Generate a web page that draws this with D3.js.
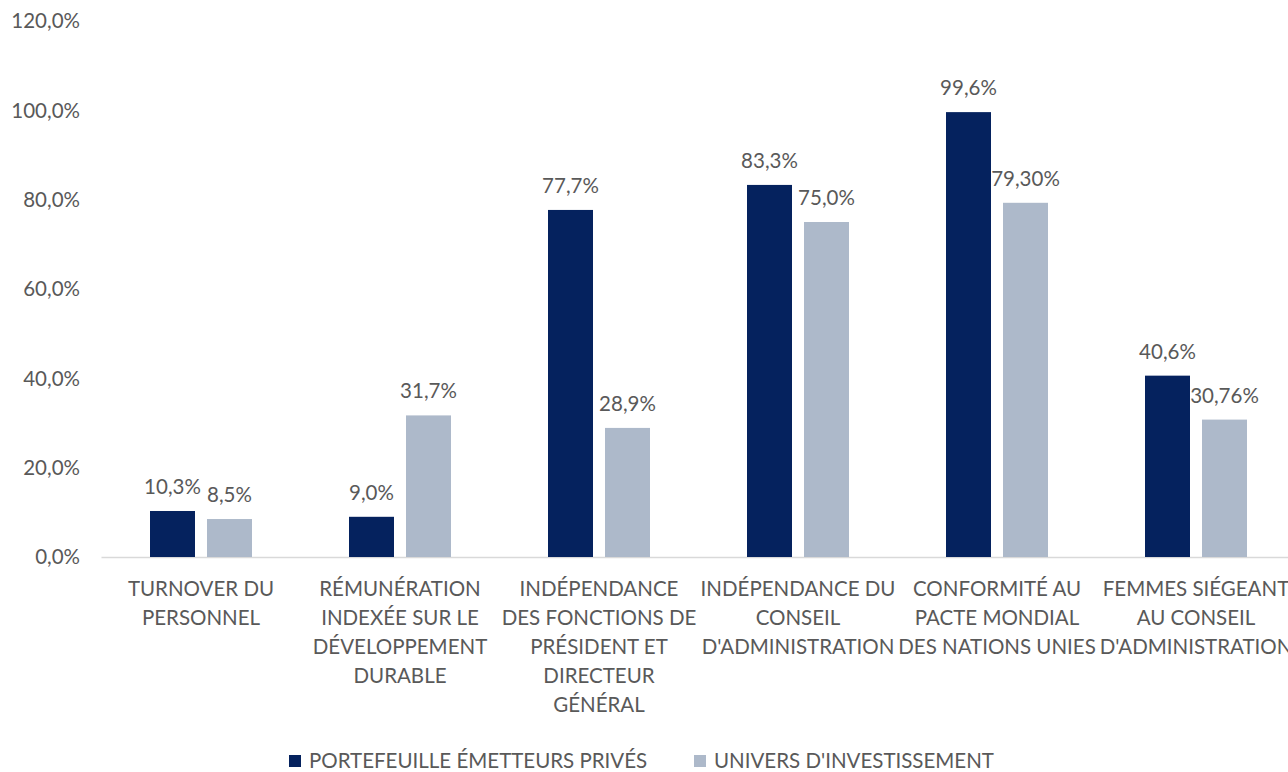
<!DOCTYPE html>
<html>
<head>
<meta charset="utf-8">
<script src="https://cdn.jsdelivr.net/npm/d3@7"></script>
<style>
  body { margin: 0; background: #fff; }
  svg text { font-family: Lato, "Open Sans", sans-serif; fill: #595959; }
</style>
</head>
<body>
<div id="graph1"></div>
<script>
// data
var categories = [
    ["TURNOVER DU", "PERSONNEL"],
    ["RÉMUNÉRATION", "INDEXÉE SUR LE", "DÉVELOPPEMENT", "DURABLE"],
    ["INDÉPENDANCE", "DES FONCTIONS DE", "PRÉSIDENT ET", "DIRECTEUR", "GÉNÉRAL"],
    ["INDÉPENDANCE DU", "CONSEIL", "D'ADMINISTRATION"],
    ["CONFORMITÉ AU", "PACTE MONDIAL", "DES NATIONS UNIES"],
    ["FEMMES SIÉGEANT", "AU CONSEIL", "D'ADMINISTRATION"]
];
var seriesNames = ["PORTEFEUILLE ÉMETTEURS PRIVÉS", "UNIVERS D'INVESTISSEMENT"];
var portefeuille = [10.3, 9.0, 77.7, 83.3, 99.6, 40.6];
var univers = [8.5, 31.7, 28.9, 75.0, 79.3, 30.76];
var portefeuilleLabels = ["10,3%", "9,0%", "77,7%", "83,3%", "99,6%", "40,6%"];
var universLabels = ["8,5%", "31,7%", "28,9%", "75,0%", "79,30%", "30,76%"];
var yTicks = [0, 20, 40, 60, 80, 100, 120];
var colors = ["#05225e", "#adb9ca"];

var w = 1288;
var h = 772;
var fontSize = "20.5px";
var margin = { top: 21, left: 101.5, bottom: 215 };
var plotRight = 101.5 + 6 * 199;

var svg = d3.select("#graph1").append("svg")
    .attr("width", w)
    .attr("height", h);

var x = d3.scaleBand()
    .domain(d3.range(categories.length))
    .range([margin.left, plotRight]);
var y = d3.scaleLinear()
    .domain([0, 120])
    .range([h - margin.bottom, margin.top]);

// y axis labels
svg.append("g").selectAll("text")
    .data(yTicks)
    .enter()
    .append("text")
    .attr("x", 80)
    .attr("y", function(d){ return y(d); })
    .attr("dy", "0.35em")
    .style("text-anchor", "end")
    .style("font-size", fontSize)
    .text(function(d){ return d.toFixed(1).replace(".", ",") + "%"; });

// baseline
svg.append("line")
    .attr("x1", margin.left)
    .attr("x2", w)
    .attr("y1", y(0) + 0.5)
    .attr("y2", y(0) + 0.5)
    .style("stroke", "#d9d9d9")
    .style("stroke-width", 1.5);

var series = [
    { values: portefeuille, labels: portefeuilleLabels, offset: -51 },
    { values: univers, labels: universLabels, offset: 6 }
];
var barW = 45;

series.forEach(function(s, si){
    var g = svg.append("g");
    g.selectAll("rect")
        .data(s.values)
        .enter()
        .append("rect")
        .attr("x", function(d, i){ return x(i) + x.bandwidth() / 2 + s.offset; })
        .attr("width", barW)
        .attr("y", function(d){ return y(d); })
        .attr("height", function(d){ return y(0) - y(d); })
        .style("fill", colors[si]);
    g.selectAll("text")
        .data(s.values)
        .enter()
        .append("text")
        .attr("x", function(d, i){ return x(i) + x.bandwidth() / 2 + s.offset + barW / 2; })
        .attr("y", function(d){ return y(d) - 17; })
        .style("text-anchor", "middle")
        .style("font-size", fontSize)
        .text(function(d, i){ return s.labels[i]; });
});

// category labels
var cat = svg.append("g").selectAll("text")
    .data(categories)
    .enter()
    .append("text")
    .attr("x", function(d, i){ return x(i) + x.bandwidth() / 2; })
    .attr("y", y(0) + 39)
    .style("text-anchor", "middle")
    .style("font-size", fontSize);
cat.selectAll("tspan")
    .data(function(d){ return d; })
    .enter()
    .append("tspan")
    .attr("x", function(){ return d3.select(this.parentNode).attr("x"); })
    .attr("dy", function(d, i){ return i === 0 ? 0 : 29; })
    .text(function(d){ return d; });

// legend
var legendX = [289, 694];
var legend = svg.append("g").selectAll("g")
    .data(seriesNames)
    .enter()
    .append("g")
    .attr("transform", function(d, i){ return "translate(" + legendX[i] + ",755)"; });
legend.append("rect")
    .attr("x", 0)
    .attr("y", 0)
    .attr("width", 12)
    .attr("height", 12)
    .style("fill", function(d, i){ return colors[i]; });
legend.append("text")
    .attr("x", 20)
    .attr("y", 6)
    .attr("dy", "0.35em")
    .style("font-size", fontSize)
    .text(function(d){ return d; });
</script>
</body>
</html>
